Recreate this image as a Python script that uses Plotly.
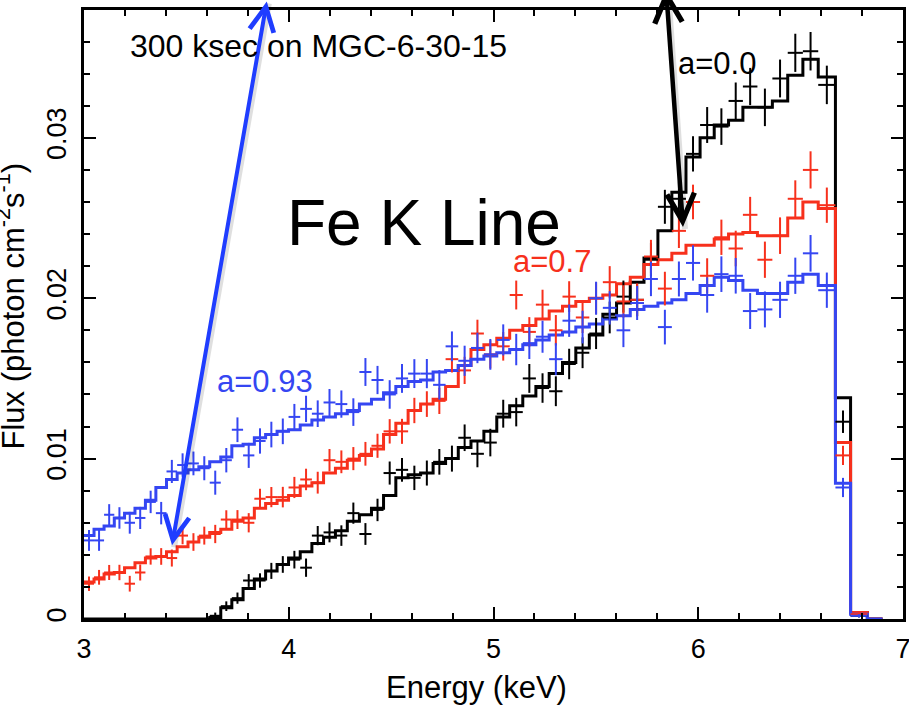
import plotly.graph_objects as go

# ---------------- data ----------------
energy_edges = [
    3.000, 3.049, 3.098, 3.148, 3.198, 3.249, 3.300, 3.351, 3.403, 3.455,
    3.508, 3.561, 3.614, 3.668, 3.722, 3.777, 3.832, 3.887, 3.943, 3.999,
    4.056, 4.113, 4.170, 4.228, 4.286, 4.345, 4.404, 4.463, 4.523, 4.583,
    4.644, 4.705, 4.766, 4.828, 4.890, 4.953, 5.016, 5.079, 5.143, 5.207,
    5.272, 5.337, 5.402, 5.468, 5.534, 5.601, 5.668, 5.735, 5.803, 5.871,
    5.940, 6.009, 6.078, 6.148, 6.218, 6.289, 6.362, 6.437, 6.511, 6.586,
    6.670, 6.744, 6.826, 6.900,
]

model_a093 = [
    0.0052, 0.0056, 0.0058, 0.0063, 0.0066, 0.0069, 0.0074, 0.0082, 0.0087, 0.0091,
    0.0093, 0.0095, 0.0098, 0.0101, 0.0108, 0.0109, 0.0113, 0.0115, 0.0117, 0.0118,
    0.0121, 0.0124, 0.0126, 0.0128, 0.0130, 0.0134, 0.0137, 0.0141, 0.0145, 0.0148,
    0.0149, 0.0154, 0.0155, 0.0158, 0.0162, 0.0164, 0.0166, 0.0168, 0.0171, 0.0174,
    0.0177, 0.0179, 0.0182, 0.0184, 0.0187, 0.0189, 0.0193, 0.0195, 0.0197, 0.0199,
    0.0203, 0.0208, 0.0213, 0.0211, 0.0205, 0.0203, 0.0203, 0.0210, 0.0215, 0.0208,
    0.00846, 0.0003, 0.0,
]
model_a07 = [
    0.0023, 0.0025, 0.0028, 0.0029, 0.0032, 0.0035, 0.0038, 0.0039, 0.0042, 0.0045,
    0.0048, 0.0051, 0.0054, 0.0056, 0.0061, 0.0063, 0.0069, 0.0072, 0.0074, 0.0077,
    0.0083, 0.0085, 0.0091, 0.0094, 0.0099, 0.0102, 0.0106, 0.0115, 0.0122, 0.0130,
    0.0134, 0.0137, 0.0145, 0.0158, 0.0168, 0.0171, 0.0175, 0.0180, 0.0183, 0.0187,
    0.0192, 0.0195, 0.0198, 0.0200, 0.0202, 0.0209, 0.0213, 0.0221, 0.0224, 0.0228,
    0.0233, 0.0233, 0.0237, 0.0240, 0.0241, 0.0239, 0.0239, 0.0250, 0.0260, 0.0256,
    0.0110, 0.0004, 0.0,
]
model_a00 = [
    0.0, 0.0, 0.0, 0.0, 0.0, 0.0, 0.0, 0.0, 0.0, 0.0,
    0.0, 0.0, 0.0001, 0.0007, 0.0012, 0.0019, 0.0025, 0.0030, 0.0034, 0.0038,
    0.0042, 0.0047, 0.0051, 0.0055, 0.0061, 0.0065, 0.0069, 0.0077, 0.0088, 0.0090,
    0.0091, 0.0097, 0.0100, 0.0107, 0.0111, 0.0117, 0.0126, 0.0133, 0.0139, 0.0145,
    0.0153, 0.0160, 0.0169, 0.0177, 0.0190, 0.0197, 0.0210, 0.0225, 0.0242, 0.0266,
    0.0288, 0.0300, 0.0308, 0.0311, 0.0319, 0.0319, 0.0323, 0.0339, 0.0349, 0.0338,
    0.0138, 0.0004, 0.0,
]

data_a093 = [
    0.0049, 0.0049, 0.0065, 0.0063, 0.0060, 0.0063, 0.0073, 0.0066, 0.0092, 0.0096,
    0.0097, 0.0094, 0.0085, 0.0099, 0.0118, 0.0102, 0.0111, 0.0115, 0.0117, 0.0126,
    0.0131, 0.0128, 0.0135, 0.0134, 0.0129, 0.0154, 0.0149, 0.0140, 0.0150, 0.0153,
    0.0153, 0.0146, 0.0170, 0.0161, 0.0169, 0.0165, 0.0174, 0.0168, 0.0172, 0.0176,
    0.0162, 0.0186, 0.0182, 0.0200, 0.0194, 0.0180, 0.0197, 0.0212, 0.0182, 0.0212,
    0.0222, 0.0202, 0.0215, 0.0214, 0.0192, 0.0193, 0.0199, 0.0214, 0.0228, 0.0205,
    0.0082, 0.0002,
]
data_a07 = [
    0.0022, 0.0026, 0.0029, 0.0029, 0.0022, 0.0029, 0.0039, 0.0039, 0.0038, 0.0052,
    0.0048, 0.0052, 0.0053, 0.0062, 0.0062, 0.0060, 0.0075, 0.0076, 0.0076, 0.0082,
    0.0087, 0.0085, 0.0099, 0.0098, 0.0100, 0.0103, 0.0108, 0.0117, 0.0117, 0.0130,
    0.0134, 0.0136, 0.0162, 0.0155, 0.0178, 0.0165, 0.0170, 0.0202, 0.0179, 0.0196,
    0.0180, 0.0201, 0.0188, 0.0200, 0.0210, 0.0198, 0.0199, 0.0226, 0.0206, 0.0242,
    0.0260, 0.0214, 0.0238, 0.0231, 0.0252, 0.0224, 0.0239, 0.0262, 0.0280, 0.0258,
    0.0102, 0.0003,
]
data_a00 = [
    None, None, None, None, None, None, None, None, None, None,
    None, None, 0.0002, 0.0008, 0.0013, 0.0024, 0.0024, 0.0030, 0.0034, 0.0037,
    0.0032, 0.0052, 0.0054, 0.0052, 0.0066, 0.0053, 0.0068, 0.0091, 0.0093, 0.0088,
    0.0091, 0.0098, 0.0100, 0.0113, 0.0103, 0.0110, 0.0128, 0.0129, 0.0150, 0.0144,
    0.0142, 0.0159, 0.0166, 0.0178, 0.0188, 0.0201, 0.0199, 0.0224, 0.0257, 0.0262,
    0.0290, 0.0308, 0.0307, 0.0323, 0.0332, 0.0319, 0.0337, 0.0353, 0.0354, 0.0333,
    0.0123, 0.0002,
]

err_a093 = [
    0.00065, 0.00065, 0.00066, 0.00067, 0.00068, 0.00069, 0.00070, 0.00070, 0.00072, 0.00073,
    0.00074, 0.00075, 0.00075, 0.00076, 0.00077, 0.00078, 0.00079, 0.00080, 0.00080, 0.00081,
    0.00082, 0.00083, 0.00084, 0.00085, 0.00086, 0.00087, 0.00088, 0.00089, 0.00090, 0.00090,
    0.00091, 0.00092, 0.00093, 0.00094, 0.00095, 0.00096, 0.00097, 0.00098, 0.00099, 0.00100,
    0.00100, 0.00101, 0.00102, 0.00103, 0.00104, 0.00105, 0.00106, 0.00107, 0.00108, 0.00109,
    0.00110, 0.00110, 0.00111, 0.00111, 0.00112, 0.00112, 0.00113, 0.00113, 0.00114, 0.00110,
    0.00060, 0.00010,
]
err_a07 = [
    0.00045, 0.00046, 0.00047, 0.00048, 0.00049, 0.00050, 0.00051, 0.00052, 0.00053, 0.00054,
    0.00055, 0.00056, 0.00057, 0.00058, 0.00059, 0.00060, 0.00062, 0.00063, 0.00064, 0.00066,
    0.00067, 0.00068, 0.00070, 0.00071, 0.00072, 0.00074, 0.00075, 0.00076, 0.00078, 0.00079,
    0.00080, 0.00082, 0.00083, 0.00085, 0.00086, 0.00088, 0.00089, 0.00090, 0.00092, 0.00093,
    0.00095, 0.00096, 0.00097, 0.00099, 0.00100, 0.00101, 0.00103, 0.00104, 0.00105, 0.00107,
    0.00108, 0.00109, 0.00110, 0.00111, 0.00112, 0.00113, 0.00114, 0.00115, 0.00116, 0.00110,
    0.00060, 0.00010,
]
err_a00 = [
    0.0, 0.0, 0.0, 0.0, 0.0, 0.0, 0.0, 0.0, 0.0, 0.0,
    0.0, 0.0, 0.00020, 0.00030, 0.00035, 0.00040, 0.00045, 0.00050, 0.00052, 0.00055,
    0.00057, 0.00060, 0.00062, 0.00064, 0.00066, 0.00068, 0.00070, 0.00072, 0.00074, 0.00076,
    0.00078, 0.00080, 0.00081, 0.00083, 0.00084, 0.00086, 0.00087, 0.00089, 0.00090, 0.00092,
    0.00093, 0.00095, 0.00096, 0.00097, 0.00099, 0.00100, 0.00102, 0.00104, 0.00106, 0.00108,
    0.00110, 0.00112, 0.00114, 0.00115, 0.00116, 0.00117, 0.00118, 0.00119, 0.00120, 0.00120,
    0.00070, 0.00010,
]

x_ticks = [3, 4, 5, 6, 7]
y_ticks = [0, 0.01, 0.02, 0.03]

n_bins = len(data_a00)
assert len(energy_edges) == n_bins + 2
for arr in (model_a00, model_a07, model_a093):
    assert len(arr) == n_bins + 1
for arr in (data_a07, data_a093, err_a00, err_a07, err_a093):
    assert len(arr) == n_bins

# ---------------- derived geometry ----------------
centers = [(energy_edges[i] + energy_edges[i + 1]) / 2 for i in range(n_bins)]
half_w = [(energy_edges[i + 1] - energy_edges[i]) / 2 for i in range(n_bins)]

BLACK = "#000000"
RED = "#f7301c"
BLUE = "#3546f2"
FONT = "Liberation Sans, Arial, Helvetica, sans-serif"

fig = go.Figure()

series = [
    (model_a00, data_a00, err_a00, BLACK),
    (model_a07, data_a07, err_a07, RED),
    (model_a093, data_a093, err_a093, BLUE),
]
for model, data, err, col in series:
    fig.add_trace(go.Scatter(
        x=energy_edges, y=list(model) + [model[-1]],
        mode="lines", line=dict(color=col, width=3, shape="hv"),
        hoverinfo="skip", showlegend=False,
    ))
for model, data, err, col in series:
    fig.add_trace(go.Scatter(
        x=centers, y=data, mode="markers",
        marker=dict(size=1, color=col),
        error_y=dict(type="data", array=err, thickness=2, width=0, color=col),
        error_x=dict(type="data", array=half_w, thickness=2, width=0, color=col),
        showlegend=False,
    ))

X0, X1, Y0, Y1 = 3.0, 7.0, 0.0, 0.03797

axis_common = dict(
    showline=True, linecolor="black", linewidth=2.5, mirror="allticks",
    ticks="inside", ticklen=12, tickwidth=2, tickcolor="black",
    showgrid=False, zeroline=False, ticklabeloverflow="allow",
    tickfont=dict(family=FONT, size=27, color="black"),
)
fig.update_xaxes(range=[X0, X1], tickvals=x_ticks,
                 minor=dict(dtick=0.2, ticks="inside", ticklen=6, tickwidth=2, tickcolor="black"),
                 ticklabelstandoff=4, **axis_common)
fig.update_yaxes(range=[Y0, Y1], tickvals=y_ticks, tickangle=-90,
                 minor=dict(dtick=0.002, ticks="inside", ticklen=6, tickwidth=2, tickcolor="black"),
                 ticklabelstandoff=4, **axis_common)

W, H = 909, 708
ML, MR, MT, MB = 84, 6, 10, 89
PW, PH = W - ML - MR, H - MT - MB


def px_to_paper(px, py):
    return (px - ML) / PW, (H - MB - py) / PH


def text_ann(text, px, py, size, color="black", angle=0):
    xp, yp = px_to_paper(px, py)
    return dict(text=text, x=xp, y=yp, xref="paper", yref="paper",
                xanchor="center", yanchor="middle", showarrow=False,
                textangle=angle, font=dict(family=FONT, size=size, color=color))


annotations = []


def arrow(x_head, y_head, x_tail, y_tail, color, width, shift=0, side="end+start"):
    return dict(
        x=x_head, y=y_head, ax=x_tail, ay=y_tail,
        xref="x", yref="y", axref="x", ayref="y",
        text="", showarrow=True, arrowside=side,
        arrowhead=5, startarrowhead=5, arrowsize=1.2, startarrowsize=1.2,
        arrowwidth=width, arrowcolor=color, standoff=0, startstandoff=0,
        xshift=shift, yshift=-shift,
    )


# soft arrow shadows (shaft only), then the arrows
annotations.append(arrow(3.430, 0.0046, 3.894, 0.0386, "rgba(0,0,0,0.12)", 6, 2, "none"))
annotations.append(arrow(5.9255, 0.02444, 5.8425, 0.03935, "rgba(0,0,0,0.12)", 6, 2, "none"))
annotations.append(arrow(3.430, 0.0046, 3.894, 0.0386, "#1f3dff", 4))
annotations.append(arrow(5.9255, 0.02444, 5.8425, 0.03935, "#000000", 4.5))

annotations += [
    text_ann("300 ksec on MGC-6-30-15", 318, 46, 32),
    text_ann("Fe K Line", 423.5, 223.5, 64),
    text_ann("a=0.0", 716.7, 63.3, 31),
    text_ann("a=0.7", 551.7, 261.7, 31, RED),
    text_ann("a=0.93", 264.5, 382, 31, BLUE),
    text_ann("Energy (keV)", 476, 687, 31),
    text_ann("Flux (photon cm<sup>-2</sup>s<sup>-1</sup>)", 10, 306.5, 31, angle=-90),
]

fig.update_layout(
    width=W, height=H,
    margin=dict(l=ML, r=MR, t=MT, b=MB, autoexpand=False),
    paper_bgcolor="white", plot_bgcolor="white",
    showlegend=False,
    annotations=annotations,
    font=dict(family=FONT),
)

fig.write_html(
    "out.html",
    config={"displayModeBar": False},
    post_script="document.body.style.margin='0px';document.body.style.overflow='hidden';",
)
